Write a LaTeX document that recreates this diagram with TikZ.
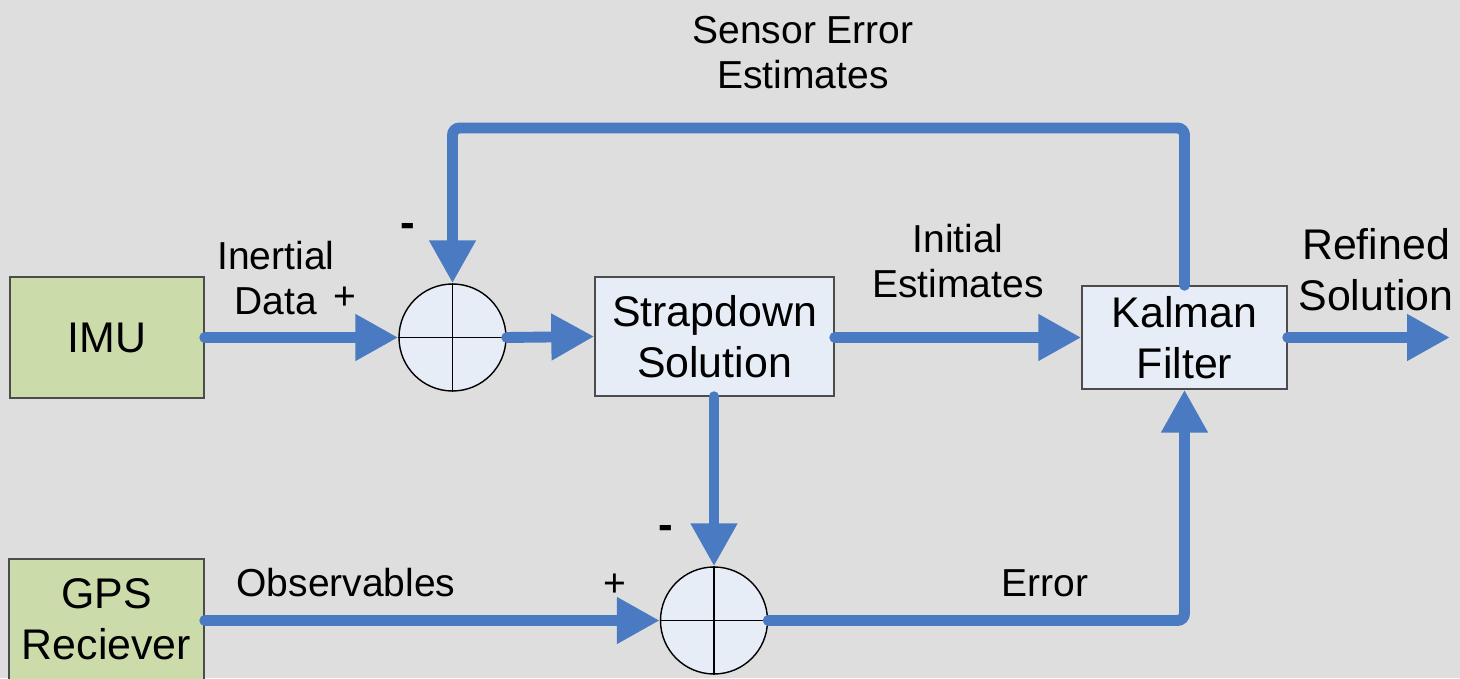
\documentclass[tikz,border=0pt]{standalone}
\usepackage{fontspec}
\setmainfont{Liberation Sans}
\usepackage{tikz}
\usetikzlibrary{calc}
\usetikzlibrary{arrows.meta}
\definecolor{flowblue}{HTML}{4A7BC2}
\definecolor{boxblue}{HTML}{E7EDF7}
\definecolor{boxgreen}{HTML}{CCDBAA}
\definecolor{paper}{HTML}{DEDEDE}
\tikzset{
  block/.style={draw=black!70, fill=boxblue, align=center, inner sep=0, font=\fontsize{12.2}{14.5}\selectfont},
  source/.style={block, fill=boxgreen},
  summer/.style={circle, draw=black, fill=boxblue, minimum size=1.07cm, inner sep=0},
  flow/.style={flowblue, line width=3.1pt, line cap=round, -{Triangle[length=4.3mm,width=4.4mm]}},
  lbl/.style={align=center, font=\fontsize{11.1}{12.8}\selectfont},
  sign/.style={font=\fontsize{12.5}{14}\selectfont\bfseries, inner sep=1pt},
}

\begin{document}
\begin{tikzpicture}
    \useasboundingbox (0,0) rectangle (14.6,6.78);
    \fill[paper] (0,0) rectangle (14.6,6.78);
    % blocks
    \node[source, minimum width=1.94cm, minimum height=1.21cm] (imu) at (1.07,3.405) {IMU};
    \node[source, minimum width=1.95cm, minimum height=1.5cm] (gps) at (1.065,0.44) {};
    \node[block, draw=none, fill=none] (gpstext) at (1.065,0.59) {GPS\\Reciever};
    \node[block, minimum width=2.39cm, minimum height=1.19cm] (strap) at (7.145,3.415) {Strapdown\\Solution};
    \node[block, minimum width=2.05cm, minimum height=1.03cm] (kalman) at (11.845,3.405) {Kalman\\Filter};
    % summing junctions
    \foreach \s/\x/\y in {suma/4.525/3.405, sumb/7.14/0.575} {
      \node[summer] (\s) at (\x,\y) {};
      \draw[thin] (\s.north)--(\s.south) (\s.west)--(\s.east);
    }
    \coordinate (out) at (14.5,3.405);
    \coordinate (fbl) at (4.525,5.5);
    \coordinate (fbr) at (11.845,5.5);
    \coordinate (err) at (11.845,0.575);
    % signal paths
    \draw[flow] (imu.east) -- (suma.west);
    \draw[flow] (suma.east) -- (strap.west);
    \draw[flow] (strap.east |- kalman.west) -- (kalman.west);
    \draw[flow] (kalman.east) -- (out);
    \draw[flow, rounded corners=2pt] (kalman.north) -- (fbr) -- (fbl) -- (suma.north);
    \draw[flow] (strap.south -| sumb.north) -- (sumb.north);
    \draw[flow] (gps.east |- sumb.west) -- (sumb.west);
    \draw[flow, rounded corners=2pt] (sumb.east) -- (err) -- (kalman.south);
    % labels
    \node[lbl] (sensorlbl) at (8.03,6.255) {Sensor Error\\Estimates};
    \node[lbl] (inertlbl) at (2.76,4.00) {Inertial\\Data};
    \node[lbl] (plusa) at (3.45,3.80) {+};
    \node[sign] (minusa) at (4.08,4.48) {-};
    \node[lbl] (initlbl) at (9.58,4.165) {Initial\\Estimates};
    \node[lbl, font=\fontsize{12.2}{14.5}\selectfont] (reflbl) at (13.76,4.085) {Refined\\Solution};
    \node[lbl] (obslbl) at (3.46,0.95) {Observables};
    \node[lbl] (plusb) at (6.15,0.93) {+};
    \node[sign] (minusb) at (6.66,1.46) {-};
    \node[lbl] (errlbl) at (10.45,0.95) {Error};
\end{tikzpicture}
\end{document}
